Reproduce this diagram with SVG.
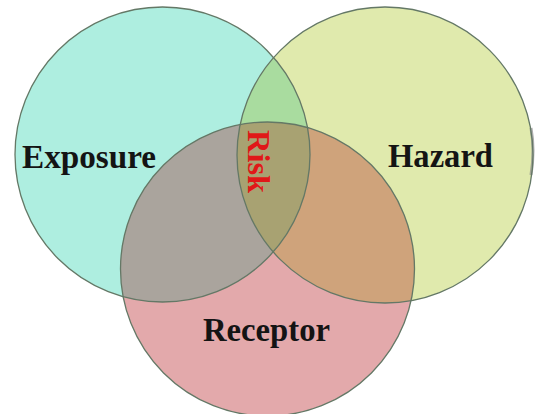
<svg xmlns="http://www.w3.org/2000/svg" xmlns:xlink="http://www.w3.org/1999/xlink" width="535" height="414" viewBox="0 0 535 414">
  <style>
    .lbl { font-family: "Liberation Serif", "Times New Roman", serif; font-weight: bold; font-size: 33px; fill: #141414; }
    .risk { font-family: "Liberation Serif", "Times New Roman", serif; font-weight: bold; font-size: 32px; fill: #e01818; }
    .outline { fill: none; stroke: #647866; stroke-width: 1.3; }
  </style>
  <defs>
    <clipPath id="clipE"><circle cx="162.5" cy="154.5" r="147.5"/></clipPath>
    <clipPath id="clipH"><circle cx="385" cy="155" r="148"/></clipPath>
    <clipPath id="clipR"><circle cx="267.5" cy="269" r="147"/></clipPath>
  </defs>
  <rect width="535" height="414" fill="#ffffff"/>
  <g id="regions">
    <circle cx="162.5" cy="154.5" r="147.5" fill="#aeeee0"/>
    <circle cx="385" cy="155" r="148" fill="#e0eaad"/>
    <circle cx="267.5" cy="269" r="147" fill="#e3a9ab"/>
    <g clip-path="url(#clipE)">
      <circle cx="385" cy="155" r="148" fill="#a9dc9f"/>
      <circle cx="267.5" cy="269" r="147" fill="#aaa49d"/>
    </g>
    <g clip-path="url(#clipH)">
      <circle cx="267.5" cy="269" r="147" fill="#cfa37b"/>
      <g clip-path="url(#clipE)">
        <circle cx="267.5" cy="269" r="147" fill="#a8a272"/>
      </g>
    </g>
    <path d="M531 128 Q535 150 531 175" fill="none" stroke="#8a8a8a" stroke-width="3" opacity="0.7"/>
  </g>
  <g id="exposure">
    <circle class="outline" cx="162.5" cy="154.5" r="147.5"/>
    <text class="lbl" x="22" y="168" textLength="134" lengthAdjust="spacingAndGlyphs">Exposure</text>
  </g>
  <g id="hazard">
    <circle class="outline" cx="385" cy="155" r="148"/>
    <text class="lbl" x="388" y="167" textLength="105" lengthAdjust="spacingAndGlyphs">Hazard</text>
  </g>
  <g id="receptor">
    <circle class="outline" cx="267.5" cy="269" r="147"/>
    <text class="lbl" x="203" y="341" textLength="127" lengthAdjust="spacingAndGlyphs">Receptor</text>
  </g>
  <g id="risk">
    <text class="risk" transform="translate(248,130) rotate(90)" x="0" y="0" textLength="63" lengthAdjust="spacingAndGlyphs">Risk</text>
  </g>
</svg>
